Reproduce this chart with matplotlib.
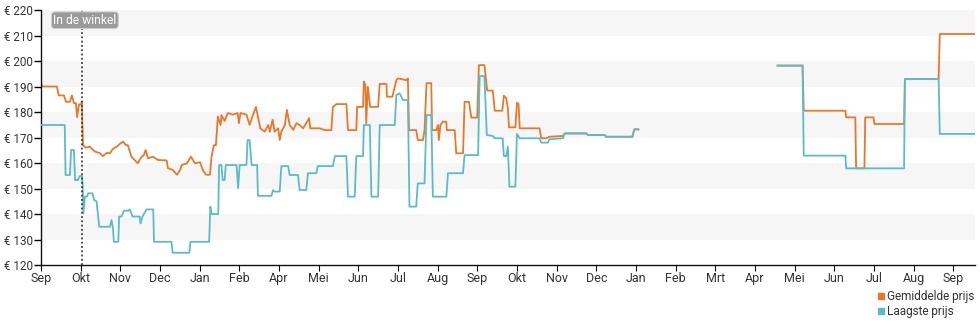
import numpy as np
import matplotlib
matplotlib.use("Agg")
import matplotlib.pyplot as plt
from matplotlib.lines import Line2D

plt.rcParams['font.family'] = ['Roboto', 'DejaVu Sans']

# x = months since start of September (first year), nan = no data
avg_x = [0.00, 0.03, 0.40, 0.45, 0.58, 0.63, 0.73, 0.78, 0.83, 0.88, 0.91, 0.96, 1.01, 1.03,
         1.06, 1.13, 1.23, 1.36, 1.49, 1.56, 1.66, 1.74, 1.81, 1.91, 1.99, 2.07, 2.14, 2.19,
         2.28, 2.37, 2.44, 2.54, 2.59, 2.64, 2.70, 2.82, 2.95, 3.17, 3.20, 3.32, 3.43, 3.50,
         3.55, 3.68, 3.78, 3.88, 4.01, 4.08, 4.16, 4.26, 4.30, 4.36, 4.41, 4.46, 4.53, 4.55,
         4.63, 4.71, 4.84, 4.96, 4.99, 5.03, 5.18, 5.26, 5.33, 5.42, 5.47, 5.53, 5.64, 5.73,
         5.77, 5.84, 5.89, 5.98, 6.02, 6.06, 6.15, 6.20, 6.27, 6.36, 6.44, 6.52, 6.61, 6.71,
         6.76, 6.79, 6.94, 7.03, 7.15, 7.32, 7.36, 7.45, 7.70, 7.74, 7.95, 7.97, 8.12, 8.14,
         8.18, 8.20, 8.24, 8.30, 8.50, 8.54, 8.71, 8.72, 8.86, 8.96, 9.00, 9.21, 9.25, 9.28,
         9.46, 9.50, 9.63, 9.67, 9.72, 9.84, 9.86, 9.97, 10.01, 10.03, 10.07, 10.13, 10.22,
         10.23, 10.43, 10.47, 10.64, 10.68, 10.79, 10.85, 11.00, 11.04, 11.18, 11.25, 11.39,
         11.44, 11.63, 11.67, 11.73, 11.77, 11.80, 11.96, 12.00, 12.04, 12.07, 12.57, 12.61,
         12.74, 12.82, 13.16, 13.20, 13.75, 13.79, 14.21, 14.25, 14.91, 14.96, 15.06,
         np.nan,
         18.57, 19.20, 19.23, 20.28, 20.30, 20.53, 20.55, 20.76, 20.78, 20.99, 21.01, 21.76,
         21.78, 22.63, 22.66, 23.60]
avg_y = [192, 190, 190, 186.5, 186.5, 184, 184, 186.5, 183.5, 183.5, 178, 183, 183, 184,
         167, 166, 166.4, 164.5, 163.8, 162.7, 164, 163.8, 165.5, 166.4, 167.5, 168.4, 167, 167,
         162.5, 161, 159.9, 162.5, 163, 165.1, 161.8, 162.5, 161.2, 161, 158, 157.3, 155.4, 157,
         159.2, 159.9, 162.5, 159.9, 160.3, 157.3, 155.4, 155.4, 162.5, 167, 167, 178.2, 174.9, 178.8,
         176.5, 179.6, 179, 179.6, 175.6, 179.6, 179, 175, 178.2, 182, 178.2, 173.6, 172.3, 174.9,
         172.3, 177, 172.3, 173.6, 169, 172.3, 174.9, 180.8, 174.9, 173, 175.6, 174.9, 173.6, 176.2,
         177.6, 173.6, 173.6, 173.6, 172.9, 172.9, 182, 183.1, 183.1, 172.9, 172.9, 182, 182, 191.9,
         190.6, 175.6, 189.9, 182, 182, 191, 191, 186, 186, 192.5, 193.2, 192.5, 193.2, 172.9,
         172.9, 169, 169, 172.9, 191.3, 191.3, 172.9, 172.9, 174.9, 169, 174.9, 176.2, 176.2,
         172.9, 172.9, 163.8, 163.8, 184, 184, 177.8, 177.8, 198.4, 198.4, 188.4, 188.4,
         180.5, 180.5, 186.4, 185.4, 181.5, 174, 174, 183.6, 183.2, 173.6, 173.6, 169.7,
         169.7, 170.3, 170.6, 171.6, 171.6, 171, 171, 170.3, 170.3, 173.2, 173.2,
         np.nan,
         198.2, 198.2, 180.5, 180.5, 177.9, 177.9, 157.9, 157.9, 177.9, 177.9, 175.3, 175.3,
         192.9, 192.9, 210.6, 210.6]

low_x = [0.00, 0.60, 0.62, 0.73, 0.76, 0.83, 0.86, 0.93, 0.98, 1.03, 1.05, 1.07, 1.11, 1.16,
         1.19, 1.30, 1.34, 1.40, 1.42, 1.47, 1.74, 1.78, 1.81, 1.84, 1.95, 1.97, 2.03, 2.09,
         2.20, 2.24, 2.31, 2.49, 2.51, 2.56, 2.66, 2.83, 2.85, 3.29, 3.32, 3.74, 3.77, 4.24,
         4.27, 4.30, 4.47, 4.49, 4.55, 4.58, 4.63, 4.66, 4.93, 4.97, 5.01, 5.18, 5.21, 5.26,
         5.31, 5.45, 5.47, 5.81, 5.85, 5.89, 6.02, 6.06, 6.23, 6.27, 6.48, 6.52, 6.69, 6.73,
         6.94, 6.98, 7.36, 7.41, 7.70, 7.74, 7.91, 7.95, 8.12, 8.14, 8.29, 8.33, 8.50, 8.54,
         8.92, 8.96, 9.04, 9.13, 9.25, 9.29, 9.46, 9.50, 9.67, 9.72, 9.84, 9.88, 10.22, 10.26,
         10.64, 10.68, 11.02, 11.06, 11.18, 11.24, 11.39, 11.44, 11.64, 11.67, 11.73, 11.77,
         11.81, 11.96, 12.00, 12.07, 12.57, 12.61, 12.78, 12.82, 13.16, 13.20, 13.75, 13.79,
         14.21, 14.25, 14.91, 14.96, 15.06,
         np.nan,
         18.57, 19.20, 19.23, 20.28, 20.30, 21.76, 21.78, 22.63, 22.66, 23.60]
low_y = [174.9, 174.9, 155.3, 155.3, 165.1, 165.1, 153.3, 153.3, 154.9, 154.9, 152, 140.3, 146.8, 146.8,
         148.1, 148.1, 145.5, 145, 142.2, 135, 135, 137.6, 135, 129.1, 129.1, 139, 139, 141.3,
         141.3, 141.8, 139, 139, 136.3, 139, 141.8, 141.8, 129.1, 129.1, 124.8, 124.8, 129.1, 129.1,
         142.9, 140, 140, 159.2, 159.2, 153.3, 153.3, 159.2, 159.2, 150.1, 159.2, 159.2, 169, 169,
         159.2, 159.2, 147.1, 147.1, 149.4, 148.8, 148.8, 158.8, 158.8, 155.3, 155.3, 149.4, 149.4, 156,
         156, 158.8, 158.8, 162.7, 162.7, 146.8, 146.8, 162.7, 162.7, 174.9, 174.9, 146.8, 146.8, 174.9,
         174.9, 186.7, 187.3, 184.7, 184.7, 142.9, 142.9, 152, 152, 178.8, 178.8, 146.8, 146.8, 156,
         156, 163.1, 163.1, 194.1, 194.1, 171, 170.6, 169.7, 169.7, 162.7, 162.7, 166.4,
         150.7, 150.7, 171.4, 169.7, 169.7, 168, 168, 169.3, 169.7, 171.6, 171.6, 171,
         171, 170.3, 170.3, 173.2, 173.2,
         np.nan,
         198.2, 198.2, 162.9, 162.9, 157.9, 157.9, 192.9, 192.9, 171.4, 171.4]

month_labels = ['Sep', 'Okt', 'Nov', 'Dec', 'Jan', 'Feb', 'Apr', 'Mei', 'Jun', 'Jul', 'Aug',
                'Sep', 'Okt', 'Nov', 'Dec', 'Jan', 'Feb', 'Mrt', 'Apr', 'Mei', 'Jun', 'Jul',
                'Aug', 'Sep']
store_date = 1.03
price_ticks = [120, 130, 140, 150, 160, 170, 180, 190, 200, 210, 220]

orange = '#e8782b'
teal = '#5cbcc6'

fig = plt.figure(figsize=(9.8, 3.25), dpi=100)
ax = fig.add_axes([0.0418, 0.1846, 0.9532, 0.7846])

# alternating horizontal bands
for lo in [130, 150, 170, 190, 210]:
    ax.axhspan(lo, lo + 10, color='#f6f6f6', lw=0, zorder=0)

ax.plot(avg_x, avg_y, color=orange, lw=1.3, zorder=2)
ax.plot(low_x, low_y, color=teal, lw=1.3, zorder=3)

ax.axvline(store_date, color='#222222', lw=1.1, ls=(0, (1.2, 1.6)), zorder=4)
ax.text(store_date - 0.72, 216.0, 'In de winkel', fontsize=8.7, color='white',
        va='center', ha='left', zorder=5,
        bbox=dict(boxstyle='round,pad=0.15,rounding_size=0.3', fc='#9a9a9a', ec='#d0d0d0', lw=0.8))

ax.set_xlim(0, 23.55)
ax.set_ylim(120, 220)
ax.set_xticks(range(len(month_labels)))
ax.set_xticklabels(month_labels)
ax.set_yticks(price_ticks)
ax.set_yticklabels(['€ %d' % p for p in price_ticks])

for s in ['top', 'right']:
    ax.spines[s].set_visible(False)
for s in ['left', 'bottom']:
    ax.spines[s].set_color('#111111')
    ax.spines[s].set_linewidth(1.0)
ax.tick_params(axis='y', length=5, width=1, pad=1, labelsize=8.4, labelcolor='#333333')
ax.tick_params(axis='x', length=4, width=0.8, pad=1, labelsize=9, labelcolor='#333333')

handles = [Line2D([], [], marker='s', ls='none', color=orange, markersize=5),
           Line2D([], [], marker='s', ls='none', color=teal, markersize=5)]
fig.legend(handles, ['Gemiddelde prijs', 'Laagste prijs'], loc='upper left',
           bbox_to_anchor=(0.889, 0.125), frameon=False, fontsize=8.5,
           handlelength=0.6, handletextpad=0.25, labelspacing=0.15, borderpad=0,
           labelcolor='#333333')

fig.savefig('out.png', dpi=100)
